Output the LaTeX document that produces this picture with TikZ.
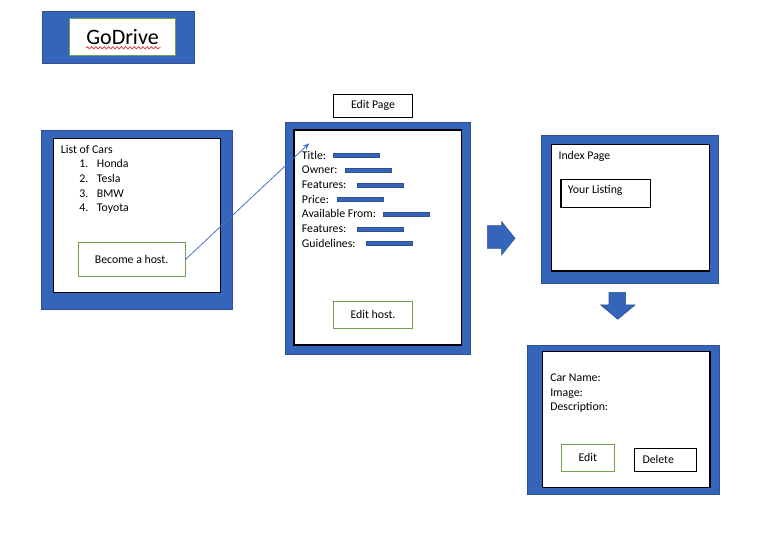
\documentclass[tikz,border=0pt]{standalone}
\usepackage{fontspec}
\setmainfont{Carlito}
\usetikzlibrary{fit,arrows.meta,decorations.pathmorphing}
\definecolor{myblue}{RGB}{52,101,186}
\definecolor{myblueline}{RGB}{47,82,143}
\definecolor{mygreen}{RGB}{112,160,80}
\definecolor{arrowblue}{RGB}{68,114,196}
\definecolor{squig}{RGB}{230,40,40}
\tikzset{
  bluebox/.style={draw=myblueline, fill=myblue, line width=0.6pt},
  whitebox/.style={draw=black, fill=white, line width=0.8pt},
  greenbox/.style={draw=mygreen, fill=white, line width=0.7pt, inner sep=0pt},
  blackbox/.style={draw=black, fill=white, line width=0.8pt, inner sep=0pt},
  lbl/.style={anchor=base west, inner sep=0pt, font=\fontsize{8.85}{10}\selectfont},
  ctr/.style={inner sep=0pt, font=\fontsize{8.85}{10}\selectfont},
  bar/.style={draw=myblueline, fill=myblue, line width=0.4pt},
  blockarrow/.style={draw=myblueline, fill=myblue, line width=0.4pt}
}
\begin{document}
\begin{tikzpicture}[x=0.75pt,y=-0.75pt]
\useasboundingbox[fill=white] (0,0) rectangle (768,552);

% GoDrive logo
\draw[bluebox] (42,11) rectangle (194,63);
\node[greenbox, fit={(69.3,18.3)(175.7,55)}] (logo) {};
\node[inner sep=0pt, font=\fontsize{16.5}{18}\selectfont] (logotxt) at (logo.center) {GoDrive};
\draw[squig, line width=0.5pt, decorate, decoration={snake, amplitude=0.9, segment length=3.2}] (86,47.8) -- (160.7,47.8);

% List of cars page
\draw[bluebox] (41,130) rectangle (232.7,309);
\draw[whitebox] (53.3,138.3) rectangle (220.7,292.7);
\node[lbl] (listtitle) at (60.7,154) {List of Cars};
\node[lbl] (n1) at (79,167.7) {1.};
\node[lbl] (c1) at (96.7,167.7) {Honda};
\node[lbl] (n2) at (79,182.4) {2.};
\node[lbl] (c2) at (96.7,182.4) {Tesla};
\node[lbl] (n3) at (79,197.1) {3.};
\node[lbl] (c3) at (96.7,197.1) {BMW};
\node[lbl] (n4) at (79,211.8) {4.};
\node[lbl] (c4) at (96.7,211.8) {Toyota};
\node[greenbox, fit={(78.3,242.3)(185,276.7)}] (host) {};
\node[ctr] (hosttxt) at (host.center) {Become a host.};

% Edit page
\node[blackbox, fit={(333.3,94.3)(412.7,117.3)}] (editlabel) {};
\node[ctr] (editlabeltxt) at (editlabel.center) {Edit Page};
\draw[bluebox] (285,122.3) rectangle (470.7,354.3);
\draw[whitebox] (294,130) rectangle (461.7,345);
\node[lbl] (f1) at (301.7,159.3) {Title:};
\node[lbl] (f2) at (301.7,174) {Owner:};
\node[lbl] (f3) at (301.7,188.7) {Features:};
\node[lbl] (f4) at (301.7,203.3) {Price:};
\node[lbl] (f5) at (301.7,218) {Available From:};
\node[lbl] (f6) at (301.7,232.7) {Features:};
\node[lbl] (f7) at (301.7,247.3) {Guidelines:};
\draw[bar] (333.3,153.5) rectangle (379.3,157.6);
\draw[bar] (345.3,168.2) rectangle (391.7,172.3);
\draw[bar] (357.3,182.9) rectangle (403.7,187.0);
\draw[bar] (337.3,197.5) rectangle (383.7,201.6);
\draw[bar] (383.3,212.2) rectangle (429.7,216.3);
\draw[bar] (357.3,226.9) rectangle (403.7,231.0);
\draw[bar] (366.0,241.5) rectangle (412.7,245.6);
\node[greenbox, fit={(333.3,301)(412.7,328.3)}] (edithost) {};
\node[ctr] (edithosttxt) at (edithost.center) {Edit host.};

% connector
\coordinate (edittarget) at (309.3,143.3);
\draw[arrowblue, line width=0.6pt, -{Stealth[length=5pt,width=4pt]}] (host.east) -- (edittarget);

% right block arrow
\draw[blockarrow] (487.3,225.7) -- (501.7,225.7) -- (501.7,221.7) -- (515,238.3) -- (501.7,255) -- (501.7,248.3) -- (487.3,248.3) -- cycle;

% Index page
\draw[bluebox] (541.7,135) rectangle (718.3,283.3);
\draw[whitebox] (551.7,144.3) rectangle (709.3,271);
\node[lbl] (indextitle) at (558.3,160) {Index Page};
\node[blackbox, fit={(561,179.3)(650.7,207.3)}] (listing) {};
\node[lbl] (listingtxt) at (567.7,193.3) {Your Listing};

% down block arrow
\draw[blockarrow] (609,292.3) -- (625.7,292.3) -- (625.7,305) -- (635,305) -- (617.8,319.3) -- (600.7,305) -- (609,305) -- cycle;

% Detail page
\draw[bluebox] (527.3,345) rectangle (719,494);
\draw[whitebox] (542.7,351.7) rectangle (710,487.3);
\node[lbl] (d1) at (550,381.2) {Car Name:};
\node[lbl] (d2) at (550,396.2) {Image:};
\node[lbl] (d3) at (550,411) {Description:};
\node[greenbox, fit={(561,444)(614.7,471.7)}] (editbtn) {};
\node[ctr] (editbtntxt) at (editbtn.center) {Edit};
\node[blackbox, fit={(634.3,448.3)(696.7,471.7)}] (deletebtn) {};
\node[lbl] (deletetxt) at (642.3,463.4) {Delete};
\end{tikzpicture}
\end{document}
